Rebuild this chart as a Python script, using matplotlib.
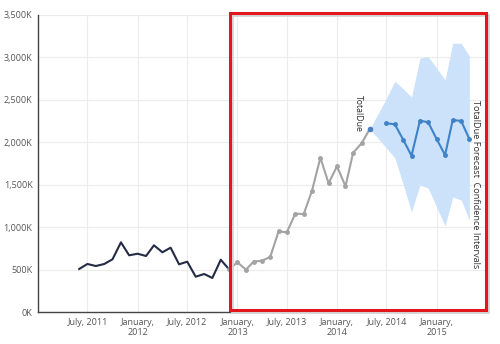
import matplotlib.pyplot as plt
import pandas as pd
from matplotlib.patches import Rectangle

plt.rcParams["font.family"] = ["Open Sans", "DejaVu Sans"]

# monthly TotalDue, in thousands
hist_months = pd.date_range("2011-06-01", "2012-12-01", freq="MS")
hist_vals = [507, 566, 542, 566, 621, 821, 668, 687, 660, 786, 704, 758,
             562, 593, 416, 448, 401, 616, 503]

recent_months = pd.date_range("2012-12-01", "2014-05-01", freq="MS")
recent_vals = [503, 586, 499, 593, 605, 648, 951, 939, 1158, 1155, 1426, 1819,
               1517, 1717, 1481, 1877, 1988, 2157]

fc_months = pd.date_range("2014-07-01", "2015-05-01", freq="MS")
fc_vals = [2224, 2212, 2027, 1842, 2255, 2236, 2039, 1850, 2263, 2251, 2039]

band_months = pd.DatetimeIndex(["2014-05-01"]).append(fc_months)
band_upper = [2157, 2518, 2722, 2628, 2534, 2990, 3009, 2876, 2734, 3167, 3167, 3017]
band_lower = [2157, 1933, 1815, 1497, 1179, 1497, 1461, 1237, 1014, 1355, 1320, 1084]

x_ticks = pd.to_datetime(["2011-07-01", "2012-01-01", "2012-07-01", "2013-01-01",
                          "2013-07-01", "2014-01-01", "2014-07-01", "2015-01-01"])
x_labels = ["July, 2011", "January,\n2012", "July, 2012", "January,\n2013",
            "July, 2013", "January,\n2014", "July, 2014", "January,\n2015"]
y_ticks = [0, 500, 1000, 1500, 2000, 2500, 3000, 3500]

fig = plt.figure(figsize=(5, 3.44), dpi=100)
ax = fig.add_axes([0.076, 0.093, 0.896, 0.8634])

ax.fill_between(band_months, band_lower, band_upper, color="#cce2fb", lw=0, zorder=1)
ax.plot(hist_months, hist_vals, color="#252b45", lw=1.5, zorder=3)
ax.plot(recent_months, recent_vals, color="#a3a3a3", lw=1.5, marker="o", ms=2.5, zorder=3)
ax.plot(recent_months[-1:], recent_vals[-1:], "o", color="#4a7fc0", ms=3, zorder=4)
ax.plot(fc_months, fc_vals, color="#3f82c8", lw=1.5, marker="o", ms=2.5, zorder=3)

ax.text(pd.Timestamp("2014-03-20"), recent_vals[-1] - 30, "TotalDue", rotation=270,
        ha="center", va="bottom", fontsize=6.3, color="#333333")
ax.text(pd.Timestamp("2015-05-24"), 2500, "TotalDue Forecast  Confidence Intervals",
        rotation=270, ha="center", va="top", fontsize=6.6, color="#333333")

ax.set_xlim(pd.Timestamp("2011-01-01"), pd.Timestamp("2015-07-01"))
ax.set_ylim(0, 3500)
ax.set_xticks(x_ticks)
ax.set_xticklabels(x_labels)
ax.set_yticks(y_ticks)
ax.set_yticklabels([f"{v:,}K" for v in y_ticks])
ax.tick_params(length=0, labelsize=6.5, labelcolor="#555555", pad=4)
ax.grid(color="#ececec", lw=0.8)
ax.set_axisbelow(True)
for s in ["top", "right"]:
    ax.spines[s].set_visible(False)
for s in ["left", "bottom"]:
    ax.spines[s].set_color("#444444")
    ax.spines[s].set_linewidth(1)

# highlight box
fig.patches.append(Rectangle((231.5 / 500, 1 - 311.5 / 344), 256 / 500, 297 / 344,
                             transform=fig.transFigure, fill=False, ec="#d6d6d6", lw=2.0))
fig.patches.append(Rectangle((230 / 500, 1 - 310 / 344), 256 / 500, 297 / 344,
                             transform=fig.transFigure, fill=False, ec="#e3161b", lw=2.2))

fig.savefig("out.png", dpi=100)
